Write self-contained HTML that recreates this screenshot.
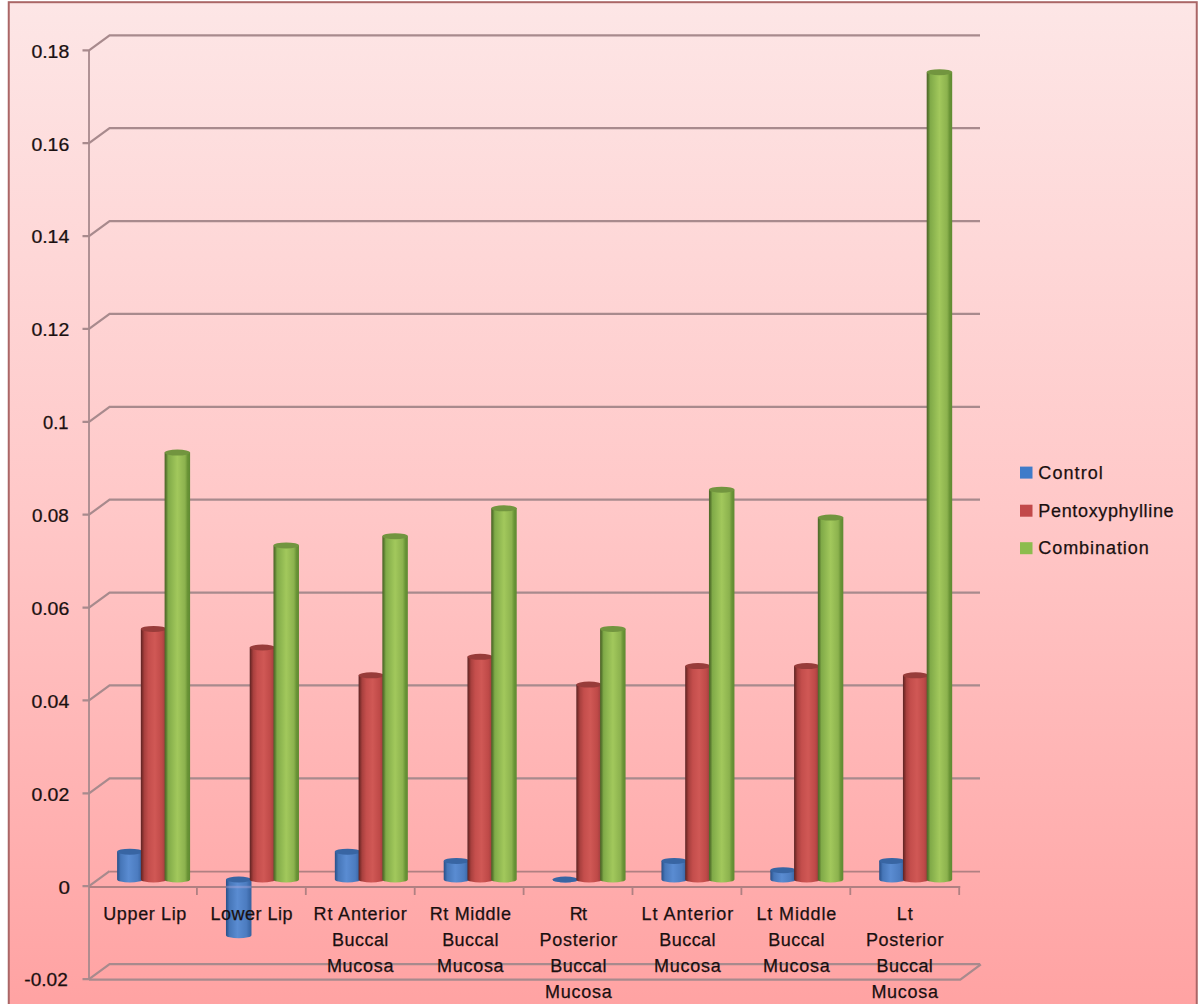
<!DOCTYPE html><html><head><meta charset="utf-8"><style>html,body{margin:0;padding:0;background:#fff;}svg{display:block}text{font-family:"Liberation Sans",sans-serif;}</style></head><body>
<svg width="1200" height="1004" viewBox="0 0 1200 1004">
<defs>
<linearGradient id="bg" x1="0" y1="0" x2="0" y2="1"><stop offset="0" stop-color="#fde6e6"/><stop offset="0.5" stop-color="#ffc8c8"/><stop offset="1" stop-color="#ffa2a2"/></linearGradient>
<linearGradient id="gB" x1="0" y1="0" x2="1" y2="0"><stop offset="0" stop-color="#2a4f86"/><stop offset="0.06" stop-color="#345f9c"/><stop offset="0.14" stop-color="#4676b8"/><stop offset="0.45" stop-color="#5a8cd2"/><stop offset="0.8" stop-color="#4c7cc0"/><stop offset="1" stop-color="#34609e"/></linearGradient>
<linearGradient id="gR" x1="0" y1="0" x2="1" y2="0"><stop offset="0" stop-color="#5a2424"/><stop offset="0.06" stop-color="#7e2e2c"/><stop offset="0.14" stop-color="#a8403e"/><stop offset="0.3" stop-color="#c44e4c"/><stop offset="0.55" stop-color="#d05855"/><stop offset="0.82" stop-color="#bf4a48"/><stop offset="1" stop-color="#983a3c"/></linearGradient>
<linearGradient id="gG" x1="0" y1="0" x2="1" y2="0"><stop offset="0" stop-color="#4e6428"/><stop offset="0.06" stop-color="#5a7a30"/><stop offset="0.14" stop-color="#80aa48"/><stop offset="0.5" stop-color="#a2c85c"/><stop offset="0.8" stop-color="#8cb24e"/><stop offset="0.9" stop-color="#6a9436"/><stop offset="1" stop-color="#5f8a32"/></linearGradient>
</defs>
<rect x="8.75" y="2.2" width="1188" height="1010" fill="url(#bg)" stroke="#aa6666" stroke-width="2"/>
<path d="M82.5 979.08H89.0L109.60 964.08H980" fill="none" stroke="#a88a8d" stroke-width="2.2"/>
<path d="M82.5 886.20H89.0L109.60 871.20" fill="none" stroke="#a88a8d" stroke-width="2.2"/>
<path d="M109.60 871.60H980" fill="none" stroke="#b08082" stroke-width="1.8"/>
<path d="M82.5 793.32H89.0L109.60 778.32H980" fill="none" stroke="#a88a8d" stroke-width="2.2"/>
<path d="M82.5 700.44H89.0L109.60 685.44H980" fill="none" stroke="#a88a8d" stroke-width="2.2"/>
<path d="M82.5 607.56H89.0L109.60 592.56H980" fill="none" stroke="#a88a8d" stroke-width="2.2"/>
<path d="M82.5 514.68H89.0L109.60 499.68H980" fill="none" stroke="#a88a8d" stroke-width="2.2"/>
<path d="M82.5 421.80H89.0L109.60 406.80H980" fill="none" stroke="#a88a8d" stroke-width="2.2"/>
<path d="M82.5 328.92H89.0L109.60 313.92H980" fill="none" stroke="#a88a8d" stroke-width="2.2"/>
<path d="M82.5 236.04H89.0L109.60 221.04H980" fill="none" stroke="#a88a8d" stroke-width="2.2"/>
<path d="M82.5 143.16H89.0L109.60 128.16H980" fill="none" stroke="#a88a8d" stroke-width="2.2"/>
<path d="M82.5 50.28H89.0L109.60 35.28H980" fill="none" stroke="#a88a8d" stroke-width="2.2"/>
<path d="M89.0 979.58H960.3L980.90 964.28" fill="none" stroke="#a88a8d" stroke-width="2.2"/>
<path d="M89.0 50.28V979.08" stroke="#a88a8d" stroke-width="1.8"/>
<path d="M89.0 887.00H960.3M196.90 887.00v8M305.80 887.00v8M414.70 887.00v8M523.60 887.00v8M632.50 887.00v8M741.40 887.00v8M850.30 887.00v8M959.20 887.00v8" fill="none" stroke="#b08082" stroke-width="1.8"/>
<path d="M117.10 851.66V879.50A12.75 3.0 0 0 0 142.60 879.50V851.66Z" fill="url(#gB)"/>
<ellipse cx="129.85" cy="851.66" rx="12.75" ry="3.0" fill="#3865a3"/>
<path d="M140.85 628.94V879.50A12.75 3.0 0 0 0 166.35 879.50V628.94Z" fill="url(#gR)"/>
<ellipse cx="153.60" cy="628.94" rx="12.75" ry="3.0" fill="#983c3a"/>
<path d="M164.60 452.62V879.50A12.75 3.0 0 0 0 190.10 879.50V452.62Z" fill="url(#gG)"/>
<ellipse cx="177.35" cy="452.62" rx="12.75" ry="3.0" fill="#72953f"/>
<path d="M225.97 879.50V935.18A12.75 3.0 0 0 0 251.47 935.18V879.50Z" fill="url(#gB)"/>
<ellipse cx="238.72" cy="879.50" rx="12.75" ry="3.0" fill="#3865a3"/>
<path d="M249.72 647.50V879.50A12.75 3.0 0 0 0 275.22 879.50V647.50Z" fill="url(#gR)"/>
<ellipse cx="262.47" cy="647.50" rx="12.75" ry="3.0" fill="#983c3a"/>
<path d="M273.47 545.42V879.50A12.75 3.0 0 0 0 298.97 879.50V545.42Z" fill="url(#gG)"/>
<ellipse cx="286.22" cy="545.42" rx="12.75" ry="3.0" fill="#72953f"/>
<path d="M334.84 851.66V879.50A12.75 3.0 0 0 0 360.34 879.50V851.66Z" fill="url(#gB)"/>
<ellipse cx="347.59" cy="851.66" rx="12.75" ry="3.0" fill="#3865a3"/>
<path d="M358.59 675.34V879.50A12.75 3.0 0 0 0 384.09 879.50V675.34Z" fill="url(#gR)"/>
<ellipse cx="371.34" cy="675.34" rx="12.75" ry="3.0" fill="#983c3a"/>
<path d="M382.34 536.14V879.50A12.75 3.0 0 0 0 407.84 879.50V536.14Z" fill="url(#gG)"/>
<ellipse cx="395.09" cy="536.14" rx="12.75" ry="3.0" fill="#72953f"/>
<path d="M443.71 860.94V879.50A12.75 3.0 0 0 0 469.21 879.50V860.94Z" fill="url(#gB)"/>
<ellipse cx="456.46" cy="860.94" rx="12.75" ry="3.0" fill="#3865a3"/>
<path d="M467.46 656.78V879.50A12.75 3.0 0 0 0 492.96 879.50V656.78Z" fill="url(#gR)"/>
<ellipse cx="480.21" cy="656.78" rx="12.75" ry="3.0" fill="#983c3a"/>
<path d="M491.21 508.30V879.50A12.75 3.0 0 0 0 516.71 879.50V508.30Z" fill="url(#gG)"/>
<ellipse cx="503.96" cy="508.30" rx="12.75" ry="3.0" fill="#72953f"/>
<path d="M552.58 879.50V879.50A12.75 3.0 0 0 0 578.08 879.50V879.50Z" fill="url(#gB)"/>
<ellipse cx="565.33" cy="879.50" rx="12.75" ry="3.0" fill="#3865a3"/>
<path d="M576.33 684.62V879.50A12.75 3.0 0 0 0 601.83 879.50V684.62Z" fill="url(#gR)"/>
<ellipse cx="589.08" cy="684.62" rx="12.75" ry="3.0" fill="#983c3a"/>
<path d="M600.08 628.94V879.50A12.75 3.0 0 0 0 625.58 879.50V628.94Z" fill="url(#gG)"/>
<ellipse cx="612.83" cy="628.94" rx="12.75" ry="3.0" fill="#72953f"/>
<path d="M661.45 860.94V879.50A12.75 3.0 0 0 0 686.95 879.50V860.94Z" fill="url(#gB)"/>
<ellipse cx="674.20" cy="860.94" rx="12.75" ry="3.0" fill="#3865a3"/>
<path d="M685.20 666.06V879.50A12.75 3.0 0 0 0 710.70 879.50V666.06Z" fill="url(#gR)"/>
<ellipse cx="697.95" cy="666.06" rx="12.75" ry="3.0" fill="#983c3a"/>
<path d="M708.95 489.74V879.50A12.75 3.0 0 0 0 734.45 879.50V489.74Z" fill="url(#gG)"/>
<ellipse cx="721.70" cy="489.74" rx="12.75" ry="3.0" fill="#72953f"/>
<path d="M770.32 870.22V879.50A12.75 3.0 0 0 0 795.82 879.50V870.22Z" fill="url(#gB)"/>
<ellipse cx="783.07" cy="870.22" rx="12.75" ry="3.0" fill="#3865a3"/>
<path d="M794.07 666.06V879.50A12.75 3.0 0 0 0 819.57 879.50V666.06Z" fill="url(#gR)"/>
<ellipse cx="806.82" cy="666.06" rx="12.75" ry="3.0" fill="#983c3a"/>
<path d="M817.82 517.58V879.50A12.75 3.0 0 0 0 843.32 879.50V517.58Z" fill="url(#gG)"/>
<ellipse cx="830.57" cy="517.58" rx="12.75" ry="3.0" fill="#72953f"/>
<path d="M879.19 860.94V879.50A12.75 3.0 0 0 0 904.69 879.50V860.94Z" fill="url(#gB)"/>
<ellipse cx="891.94" cy="860.94" rx="12.75" ry="3.0" fill="#3865a3"/>
<path d="M902.94 675.34V879.50A12.75 3.0 0 0 0 928.44 879.50V675.34Z" fill="url(#gR)"/>
<ellipse cx="915.69" cy="675.34" rx="12.75" ry="3.0" fill="#983c3a"/>
<path d="M926.69 72.14V879.50A12.75 3.0 0 0 0 952.19 879.50V72.14Z" fill="url(#gG)"/>
<ellipse cx="939.44" cy="72.14" rx="12.75" ry="3.0" fill="#72953f"/>
<path d="M225.97 887.00h25.5" stroke="#c0b0e0" stroke-opacity="0.35" stroke-width="2.5"/>
<text x="144.8" y="920.3" font-size="18" text-anchor="middle" textLength="83.15" lengthAdjust="spacing" fill="#1a1010" stroke="#1a1010" stroke-width="0.25">Upper Lip</text>
<text x="251.5" y="920.3" font-size="18" text-anchor="middle" textLength="82.05" lengthAdjust="spacing" fill="#1a1010" stroke="#1a1010" stroke-width="0.25">Lower Lip</text>
<text x="360.2" y="920.3" font-size="18" text-anchor="middle" textLength="93.25" lengthAdjust="spacing" fill="#1a1010" stroke="#1a1010" stroke-width="0.25">Rt Anterior</text>
<text x="360.2" y="946.1" font-size="18" text-anchor="middle" textLength="56.33" lengthAdjust="spacing" fill="#1a1010" stroke="#1a1010" stroke-width="0.25">Buccal</text>
<text x="360.2" y="971.9" font-size="18" text-anchor="middle" textLength="66.63" lengthAdjust="spacing" fill="#1a1010" stroke="#1a1010" stroke-width="0.25">Mucosa</text>
<text x="470.3" y="920.3" font-size="18" text-anchor="middle" textLength="81.33" lengthAdjust="spacing" fill="#1a1010" stroke="#1a1010" stroke-width="0.25">Rt Middle</text>
<text x="470.3" y="946.1" font-size="18" text-anchor="middle" textLength="56.33" lengthAdjust="spacing" fill="#1a1010" stroke="#1a1010" stroke-width="0.25">Buccal</text>
<text x="470.3" y="971.9" font-size="18" text-anchor="middle" textLength="66.63" lengthAdjust="spacing" fill="#1a1010" stroke="#1a1010" stroke-width="0.25">Mucosa</text>
<text x="578.4" y="920.3" font-size="18" text-anchor="middle" textLength="17.30" lengthAdjust="spacing" fill="#1a1010" stroke="#1a1010" stroke-width="0.25">Rt</text>
<text x="578.4" y="946.1" font-size="18" text-anchor="middle" textLength="77.63" lengthAdjust="spacing" fill="#1a1010" stroke="#1a1010" stroke-width="0.25">Posterior</text>
<text x="578.4" y="971.9" font-size="18" text-anchor="middle" textLength="56.33" lengthAdjust="spacing" fill="#1a1010" stroke="#1a1010" stroke-width="0.25">Buccal</text>
<text x="578.4" y="997.7" font-size="18" text-anchor="middle" textLength="66.63" lengthAdjust="spacing" fill="#1a1010" stroke="#1a1010" stroke-width="0.25">Mucosa</text>
<text x="687.4" y="920.3" font-size="18" text-anchor="middle" textLength="91.85" lengthAdjust="spacing" fill="#1a1010" stroke="#1a1010" stroke-width="0.25">Lt Anterior</text>
<text x="687.4" y="946.1" font-size="18" text-anchor="middle" textLength="56.33" lengthAdjust="spacing" fill="#1a1010" stroke="#1a1010" stroke-width="0.25">Buccal</text>
<text x="687.4" y="971.9" font-size="18" text-anchor="middle" textLength="66.63" lengthAdjust="spacing" fill="#1a1010" stroke="#1a1010" stroke-width="0.25">Mucosa</text>
<text x="796.4" y="920.3" font-size="18" text-anchor="middle" textLength="79.85" lengthAdjust="spacing" fill="#1a1010" stroke="#1a1010" stroke-width="0.25">Lt Middle</text>
<text x="796.4" y="946.1" font-size="18" text-anchor="middle" textLength="56.33" lengthAdjust="spacing" fill="#1a1010" stroke="#1a1010" stroke-width="0.25">Buccal</text>
<text x="796.4" y="971.9" font-size="18" text-anchor="middle" textLength="66.63" lengthAdjust="spacing" fill="#1a1010" stroke="#1a1010" stroke-width="0.25">Mucosa</text>
<text x="904.7" y="920.3" font-size="18" text-anchor="middle" textLength="16.02" lengthAdjust="spacing" fill="#1a1010" stroke="#1a1010" stroke-width="0.25">Lt</text>
<text x="904.7" y="946.1" font-size="18" text-anchor="middle" textLength="77.63" lengthAdjust="spacing" fill="#1a1010" stroke="#1a1010" stroke-width="0.25">Posterior</text>
<text x="904.7" y="971.9" font-size="18" text-anchor="middle" textLength="56.33" lengthAdjust="spacing" fill="#1a1010" stroke="#1a1010" stroke-width="0.25">Buccal</text>
<text x="904.7" y="997.7" font-size="18" text-anchor="middle" textLength="66.63" lengthAdjust="spacing" fill="#1a1010" stroke="#1a1010" stroke-width="0.25">Mucosa</text>
<text transform="translate(67.78,986.4) scale(1.090,1)" font-size="17.5" text-anchor="end" fill="#1a1010" stroke="#1a1010" stroke-width="0.25">-0.02</text>
<text transform="translate(70.06,893.5) scale(1.178,1)" font-size="17.5" text-anchor="end" fill="#1a1010" stroke="#1a1010" stroke-width="0.25">0</text>
<text transform="translate(69.27,800.6) scale(1.112,1)" font-size="17.5" text-anchor="end" fill="#1a1010" stroke="#1a1010" stroke-width="0.25">0.02</text>
<text transform="translate(69.27,707.7) scale(1.112,1)" font-size="17.5" text-anchor="end" fill="#1a1010" stroke="#1a1010" stroke-width="0.25">0.04</text>
<text transform="translate(69.27,614.9) scale(1.112,1)" font-size="17.5" text-anchor="end" fill="#1a1010" stroke="#1a1010" stroke-width="0.25">0.06</text>
<text transform="translate(68.67,522.0) scale(1.079,1)" font-size="17.5" text-anchor="end" fill="#1a1010" stroke="#1a1010" stroke-width="0.25">0.08</text>
<text transform="translate(68.54,429.1) scale(1.046,1)" font-size="17.5" text-anchor="end" fill="#1a1010" stroke="#1a1010" stroke-width="0.25">0.1</text>
<text transform="translate(69.27,336.2) scale(1.112,1)" font-size="17.5" text-anchor="end" fill="#1a1010" stroke="#1a1010" stroke-width="0.25">0.12</text>
<text transform="translate(69.27,243.3) scale(1.112,1)" font-size="17.5" text-anchor="end" fill="#1a1010" stroke="#1a1010" stroke-width="0.25">0.14</text>
<text transform="translate(69.27,150.5) scale(1.112,1)" font-size="17.5" text-anchor="end" fill="#1a1010" stroke="#1a1010" stroke-width="0.25">0.16</text>
<text transform="translate(69.27,57.6) scale(1.112,1)" font-size="17.5" text-anchor="end" fill="#1a1010" stroke="#1a1010" stroke-width="0.25">0.18</text>
<rect x="1020" y="466.6" width="12.5" height="12" fill="#3f7bc9"/>
<text x="1038.3" y="478.7" font-size="18" textLength="64.53" lengthAdjust="spacing" fill="#1a1010" stroke="#1a1010" stroke-width="0.25">Control</text>
<rect x="1020" y="504.7" width="12.5" height="12" fill="#c2494a"/>
<text x="1038.3" y="516.7" font-size="18" textLength="135.29" lengthAdjust="spacing" fill="#1a1010" stroke="#1a1010" stroke-width="0.25">Pentoxyphylline</text>
<rect x="1020" y="542.2" width="12.5" height="12" fill="#8cbc4e"/>
<text x="1038.3" y="554.2" font-size="18" textLength="110.46" lengthAdjust="spacing" fill="#1a1010" stroke="#1a1010" stroke-width="0.25">Combination</text>
</svg></body></html>
